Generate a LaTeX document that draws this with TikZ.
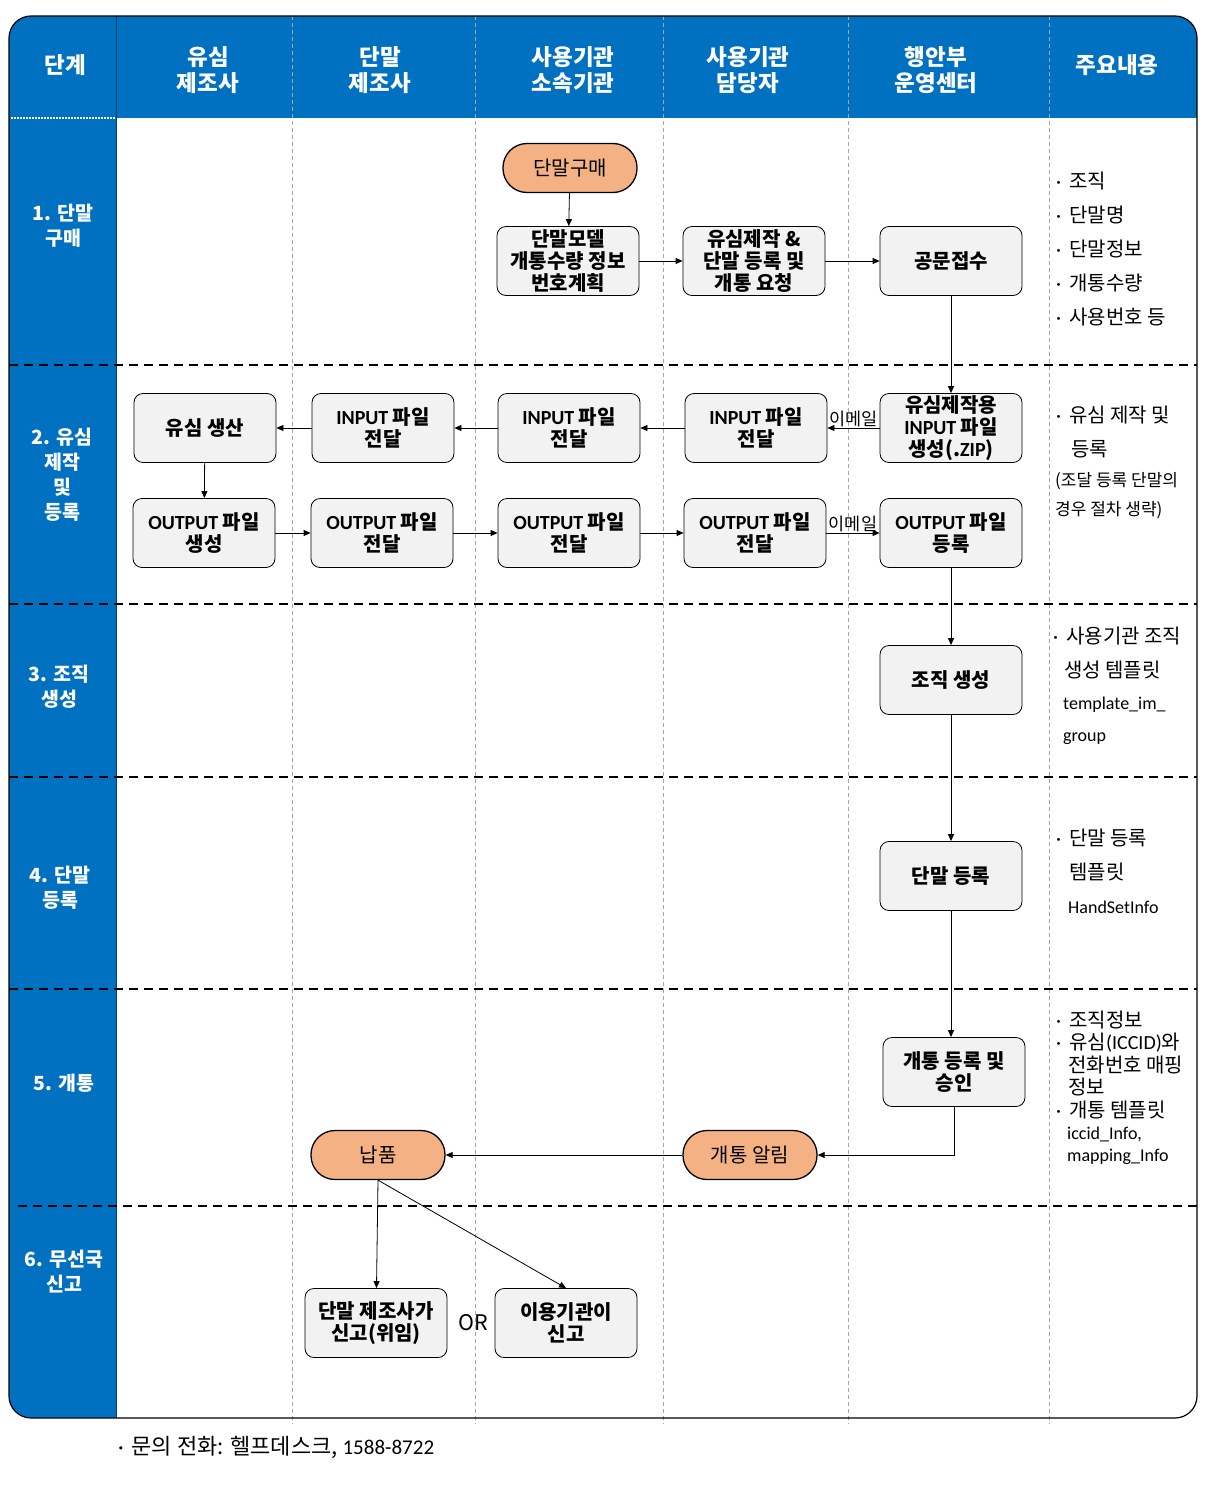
\documentclass[tikz,border=0pt]{standalone}
\usepackage{fontspec}
\setmainfont{Noto Sans CJK KR}
\newfontfamily\latinfont{Carlito}
\usetikzlibrary{arrows.meta, positioning}
\definecolor{laneblue}{HTML}{0070C0}
\definecolor{boxgray}{HTML}{F2F2F2}
\definecolor{termorange}{HTML}{F4B183}
\definecolor{gridgray}{HTML}{A6A6A6}
\newcommand{\lat}[1]{{\latinfont #1}}
\newcommand{\memodot}{{\latinfont ·}\hspace{8pt}}

\begin{document}
\begin{tikzpicture}[
    x=1pt, y=-1pt,
    box/.style={draw, line width=0.8pt, rounded corners=9pt, fill=boxgray, align=center,
      minimum width=142pt, minimum height=69pt, inner sep=2pt,
      font=\bfseries\fontsize{20}{22}\selectfont},
    term/.style={draw, line width=1.3pt, rounded corners=24pt, fill=termorange,
      minimum width=134pt, minimum height=49pt, font=\fontsize{20}{22}\selectfont},
    arr/.style={-{Triangle[length=7pt,width=6pt]}, line width=0.8pt},
    head/.style={text=white, align=center, font=\bfseries\fontsize{22.5}{26}\selectfont},
    phase/.style={text=white, align=center, font=\bfseries\fontsize{19.5}{25}\selectfont},
    memo/.style={anchor=west, inner sep=0pt, font=\fontsize{20}{22}\selectfont},
    lab/.style={font=\fontsize{17.5}{18}\selectfont, inner sep=1pt},
    lane/.style={gridgray, line width=0.7pt, dash pattern=on 4pt off 3pt},
    rowsep/.style={line width=1.8pt, dash pattern=on 9pt off 6pt}
  ]
    \useasboundingbox (0,0) rectangle (1210,1512);

    % frame, header band and phase column
    \begin{scope}
      \clip[rounded corners=22pt] (9,16) rectangle (1197,1418);
      \fill[laneblue] (9,16) rectangle (1197,118);
      \fill[laneblue] (9,118) rectangle (116,1418);
    \end{scope}
    \foreach \x in {292,475,663,848,1049}
      \draw[lane] (\x,16) -- (\x,1424);
    \draw[laneblue!60!black, line width=0.8pt] (116,16) -- (116,1418);
    \draw[white, line width=1.5pt, dash pattern=on 1.5pt off 1.5pt] (11,118) -- (115,118);
    \foreach \y in {365,604,777,989}
      \draw[rowsep] (9,\y) -- (1197,\y);
    \draw[rowsep] (18,1206) -- (1202,1206);
    \draw[line width=1.2pt, rounded corners=22pt] (9,16) rectangle (1197,1418);

    % header
    \node[head] (hStep) at (65,65) {단계};
    \node[head] (hSim) at (208,70) {유심\\제조사};
    \node[head] (hMaker) at (380,70) {단말\\제조사};
    \node[head] (hOrg) at (573,70) {사용기관\\소속기관};
    \node[head] (hStaff) at (748,70) {사용기관\\담당자};
    \node[head] (hCenter) at (936,70) {행안부\\운영센터};
    \node[head] (hMemo) at (1117,65) {주요내용};

    % phases
    \node[phase] (p1) at (63,226) {1. 단말\\구매};
    \node[phase] (p2) at (62,475) {2. 유심\\제작\\및\\등록};
    \node[phase] (p3) at (59,687) {3. 조직\\생성};
    \node[phase] (p4) at (60,888) {4. 단말\\등록};
    \node[phase] (p5) at (64,1083) {5. 개통};
    \node[phase] (p6) at (64,1272) {6. 무선국\\신고};

    % 1. purchase
    \node[term] (buy) at (570,168) {단말구매};
    \node[box] (plan) at (568,261) {단말모델\\개통수량 정보\\번호계획};
    \node[box] (req) at (754,261) {유심제작 \&\\단말 등록 및\\개통 요청};
    \node[box] (recv) at (951,261) {공문접수};

    % 2. sim production
    \node[box] (zip) at (951,428) {유심제작용\\\lat{INPUT} 파일\\생성(.\lat{ZIP})};
    \node[box] (in3) at (756,428) {\lat{INPUT} 파일\\전달};
    \node[box] (in2) at (569,428) {\lat{INPUT} 파일\\전달};
    \node[box] (in1) at (383,428) {\lat{INPUT} 파일\\전달};
    \node[box] (simprod) at (205,428) {유심 생산};
    \node[box] (outgen) at (204,533) {\lat{OUTPUT} 파일\\생성};
    \node[box] (out1) at (382,533) {\lat{OUTPUT} 파일\\전달};
    \node[box] (out2) at (569,533) {\lat{OUTPUT} 파일\\전달};
    \node[box] (out3) at (755,533) {\lat{OUTPUT} 파일\\전달};
    \node[box] (outreg) at (951,533) {\lat{OUTPUT} 파일\\등록};

    % 3.-6.
    \node[box] (orggen) at (951,680) {조직 생성};
    \node[box] (hsreg) at (951,876) {단말 등록};
    \node[box] (open) at (954,1072) {개통 등록 및\\승인};
    \node[term] (notice) at (750,1155) {개통 알림};
    \node[term] (deliv) at (378,1155) {납품};
    \node[box] (self) at (376,1323) {단말 제조사가\\신고(위임)};
    \node[box] (user) at (566,1323) {이용기관이\\신고};
    \node[font=\fontsize{21.5}{22}\selectfont] (or) at (473,1323) {OR};

    \draw[arr] (buy) -- (plan);
    \draw[arr] (plan) -- (req);
    \draw[arr] (req) -- (recv);
    \draw[arr] (recv) -- (zip);
    \draw[arr] (zip) -- node[lab, above] {이메일} (in3);
    \draw[arr] (in3) -- (in2);
    \draw[arr] (in2) -- (in1);
    \draw[arr] (in1) -- (simprod);
    \draw[arr] (simprod) -- (outgen);
    \draw[arr] (outgen) -- (out1);
    \draw[arr] (out1) -- (out2);
    \draw[arr] (out2) -- (out3);
    \draw[arr] (out3) -- node[lab, above] {이메일} (outreg);
    \draw[arr] (outreg) -- (orggen);
    \draw[arr] (orggen) -- (hsreg);
    \draw[arr] (hsreg) -- (hsreg |- open.north);
    \draw[arr] (open.south) |- (notice);
    \draw[arr] (notice) -- (deliv);
    \draw[arr] (deliv.south) -- (self);
    \draw[arr] (deliv.south) -- (user.north);

    % notes
    \foreach \x/\y/\txt [count=\i] in {
        1056/181/{\memodot 조직}, 1056/215/{\memodot 단말명},
        1056/249/{\memodot 단말정보}, 1056/283/{\memodot 개통수량},
        1056/317/{\memodot 사용번호 등},
        1056/415/{\memodot 유심 제작 및}, 1071/449/{등록},
        1055/481/{\fontsize{17}{17}\selectfont (조달 등록 단말의},
        1055/510/{\fontsize{17}{17}\selectfont 경우 절차 생략)},
        1053/636/{\memodot 사용기관 조직}, 1064/670/{생성 템플릿},
        1063/705/{\fontsize{18}{22}\selectfont\lat{template\_im\_}},
        1063/739/{\fontsize{18}{22}\selectfont\lat{group}},
        1056/838/{\memodot 단말 등록}, 1069/872/{템플릿},
        1068/907/{\fontsize{18}{22}\selectfont\lat{HandSetInfo}},
        1056/1020/{\memodot 조직정보}, 1056/1043/{\memodot 유심\lat{(ICCID)}와},
        1068/1065/{전화번호 매핑}, 1068/1087/{정보},
        1056/1110/{\memodot 개통 템플릿},
        1067/1134/{\fontsize{18}{22}\selectfont\lat{iccid\_Info,}},
        1067/1157/{\fontsize{18}{22}\selectfont\lat{mapping\_Info}}}
      \node[memo] (memo\i) at (\x,\y) {\txt};

    \node[memo, font=\fontsize{22}{24}\selectfont] (contact) at (118,1447)
      {\memodot 문의 전화: 헬프데스크, {\fontsize{21}{24}\selectfont\lat{1588-8722}}};
\end{tikzpicture}
\end{document}
